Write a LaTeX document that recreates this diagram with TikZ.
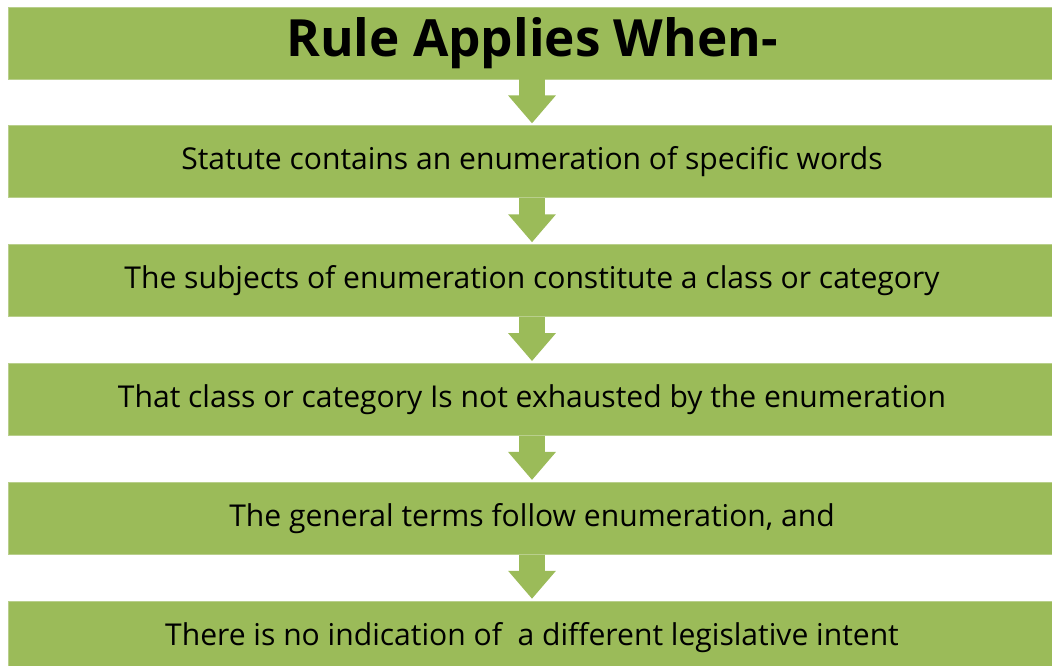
\documentclass[tikz,border=0pt]{standalone}
\usepackage{fontspec}
\setmainfont{Open Sans}
\usetikzlibrary{positioning, arrows.meta}
\definecolor{olivegreen}{HTML}{9BBB59}
\definecolor{oliveedge}{HTML}{B9CF8C}

\begin{document}
\begin{tikzpicture}
		\tikzstyle{rulebox} = [rectangle,fill=olivegreen,draw=oliveedge,line width=0.6pt,minimum width=26.2cm,minimum height=1.8cm,inner sep=0pt,font=\fontsize{21.4}{26}\selectfont]
		\tikzstyle{downarrow} = [olivegreen,line width=0.65cm,-{Triangle[width=1.15cm,length=0.7cm]},shorten >=0.05cm]
		\useasboundingbox (0,0) rectangle (26.3,-16.625);
		\node[rulebox,font=\fontsize{36.5}{44}\bfseries] (r1) at (13.3,-1.075) {Rule Applies When-};
		\node[rulebox,below=1.15cm of r1] (r2) {Statute contains an enumeration of specific words};
		\node[rulebox,below=1.15cm of r2] (r3) {The subjects of enumeration constitute a class or category};
		\node[rulebox,below=1.15cm of r3] (r4) {That class or category Is not exhausted by the enumeration};
		\node[rulebox,below=1.15cm of r4] (r5) {The general terms follow enumeration, and};
		\node[rulebox,below=1.15cm of r5] (r6) {There is no indication of\ \ a different legislative intent};
		\draw[downarrow] (r1.south) -- (r2.north);
		\draw[downarrow] (r2.south) -- (r3.north);
		\draw[downarrow] (r3.south) -- (r4.north);
		\draw[downarrow] (r4.south) -- (r5.north);
		\draw[downarrow] (r5.south) -- (r6.north);
\end{tikzpicture}
\end{document}
